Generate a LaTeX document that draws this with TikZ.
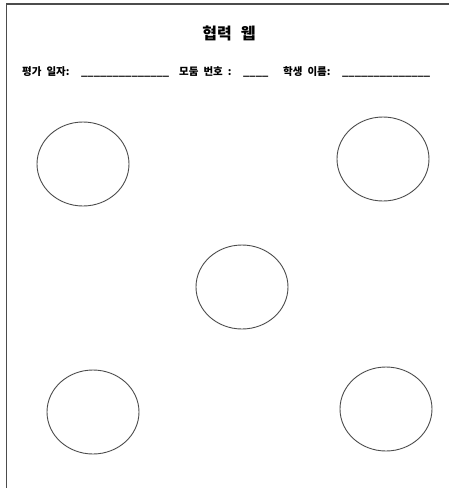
\documentclass[tikz,border=0pt]{standalone}
\usepackage{fontspec}
\setmainfont{Noto Sans CJK KR}
\usetikzlibrary{shapes.geometric}
\newcommand{\headfont}{\fontsize{16}{18}\selectfont\bfseries\spaceskip=9pt\relax}
\newcommand{\infofont}{\fontsize{10.5}{12}\selectfont\bfseries\spaceskip=5pt\relax}
\tikzset{
  pageline/.style={draw=black!70, line width=1.6pt},
  circ/.style={
    draw=black!70,
    ellipse,
    minimum width=92pt,
    minimum height=84pt,
    inner sep=0pt,
    line width=0.9pt,
  },
  title/.style={font=\headfont, inner sep=0pt},
  info/.style={font=\infofont, anchor=base west, inner sep=0pt},
  blank/.style={font=\fontsize{11}{12}\selectfont\bfseries, anchor=base west, inner sep=0pt},
}

\begin{document}
\begin{tikzpicture}[x=1pt, y=-1pt]
\useasboundingbox (0,0) rectangle (449,488);

% Page frame (top and left edge only)
\coordinate (ptop) at (449,4);
\coordinate (pcorner) at (6.5,4);
\coordinate (pbottom) at (6.5,488);
\draw[pageline] (ptop) -- (pcorner) -- (pbottom);

% Heading
\node[title] (head) at (229,33) {협력 웹};

% Info line
\node[info] (date) at (22,75) {평가 일자:};
\node[blank] (dateblank) at (81,75) {\_\_\_\_\_\_\_\_\_\_\_\_\_\_};
\node[info] (group) at (179,75) {모둠 번호 :};
\node[blank] (groupblank) at (243,75) {\_\_\_\_};
\node[info] (name) at (283,75) {학생 이름:};
\node[blank] (nameblank) at (342,75) {\_\_\_\_\_\_\_\_\_\_\_\_\_\_};

% Web circles
\node[circ] (c1) at (83,164) {};
\node[circ] (c2) at (383,159) {};
\node[circ] (c3) at (242,287) {};
\node[circ] (c4) at (93,412) {};
\node[circ] (c5) at (386,409) {};

\end{tikzpicture}
\end{document}
